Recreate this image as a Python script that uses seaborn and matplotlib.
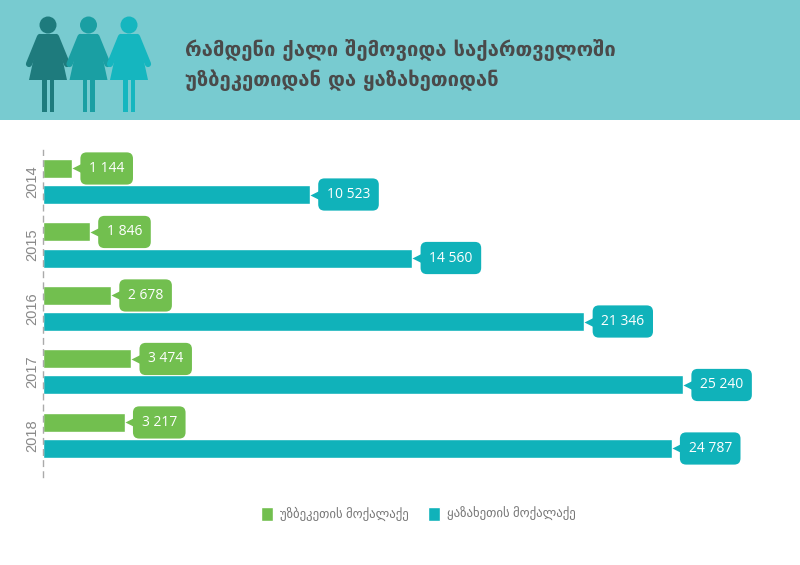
import matplotlib
matplotlib.use('Agg')
import matplotlib.pyplot as plt
import matplotlib.patches as mpatches
import matplotlib.transforms as mtransforms
import seaborn as sns
import pandas as pd

# data
years = ['2014', '2015', '2016', '2017', '2018']
uzbek = [1144, 1846, 2678, 3474, 3217]
kazakh = [10523, 14560, 21346, 25240, 24787]
series_names = ['უზბეკეთის მოქალაქე', 'ყაზახეთის მოქალაქე']
title_lines = ['რამდენი ქალი შემოვიდა საქართველოში', 'უზბეკეთიდან და ყაზახეთიდან']

green = '#72bf4f'
teal = '#10b2ba'
header_bg = '#78cbd0'
icon_cols = ['#1e7b7d', '#1a9fa3', '#15b6bf']

df = pd.DataFrame({
    'year': years * 2,
    'value': uzbek + kazakh,
    'country': [series_names[0]] * len(years) + [series_names[1]] * len(years),
})

sns.set_theme(style='white')
plt.rcParams['font.family'] = ['Open Sans', 'DejaVu Sans']

fig = plt.figure(figsize=(8, 5.65), dpi=100)

# header band, icons and title drawn in pixel coords
bg = fig.add_axes([0, 0, 1, 1])
bg.set_xlim(0, 800)
bg.set_ylim(565, 0)
bg.axis('off')
bg.add_patch(mpatches.Rectangle((0, 0), 800, 120, color=header_bg, lw=0))

for i, c in enumerate(icon_cols):
    cx = 48 + i * 40.5
    bg.add_patch(mpatches.Circle((cx, 25), 8.5, color=c, lw=0))
    bg.add_patch(mpatches.Polygon([(cx - 9, 34), (cx + 9, 34), (cx + 19, 80), (cx - 19, 80)],
                                  closed=True, color=c, lw=0))
    bg.plot([cx - 8, cx - 19], [37, 64], color=c, lw=4.5, solid_capstyle='round')
    bg.plot([cx + 8, cx + 19], [37, 64], color=c, lw=4.5, solid_capstyle='round')
    bg.add_patch(mpatches.Rectangle((cx - 6, 78), 4.5, 34, color=c, lw=0))
    bg.add_patch(mpatches.Rectangle((cx + 1.5, 78), 4.5, 34, color=c, lw=0))

bg.text(185, 50, title_lines[0], fontsize=14.6, fontweight='bold', color='#4a4a4a',
        va='center', ha='left', family='DejaVu Sans')
bg.text(185, 80, title_lines[1], fontsize=14.6, fontweight='bold', color='#4a4a4a',
        va='center', ha='left', family='DejaVu Sans')

# main chart
xmax = 29000
ax = fig.add_axes([43 / 800, 1 - 477 / 565, (xmax * 640 / 25240) / 800, 327 / 565])
sns.barplot(data=df, y='year', x='value', hue='country', orient='h',
            palette=[green, teal], width=0.82, gap=0.27, saturation=1, ax=ax)
ax.set_xlim(0, xmax)
ax.set_ylim(4.654, -0.496)
ax.set_xlabel('')
ax.set_ylabel('')
ax.set_xticks([])
ax.set_facecolor('none')
for s in ['top', 'right', 'bottom']:
    ax.spines[s].set_visible(False)
ax.spines['left'].set_color('#aaaaaa')
ax.spines['left'].set_linestyle((0, (4, 4)))
ax.spines['left'].set_linewidth(1)
ax.tick_params(axis='y', length=0, pad=3)
for lab in ax.get_yticklabels():
    lab.set_rotation(90)
    lab.set_va('center')
    lab.set_fontsize(10.5)
    lab.set_color('#888888')
    lab.set_family('Liberation Sans')

# callout labels
tri = mtransforms.offset_copy(ax.transData, fig=fig, x=6, y=0, units='dots')
for j, vals in enumerate([uzbek, kazakh]):
    col = [green, teal][j]
    for i, v in enumerate(vals):
        yc = i + (-0.205 if j == 0 else 0.205)
        ax.plot([v], [yc], marker='<', markersize=8, color=col, transform=tri,
                clip_on=False, mec='none')
        ax.annotate(f'{v:,}'.replace(',', ' '), xy=(v, yc), xytext=(17, 0),
                    textcoords='offset pixels', ha='left', va='center',
                    fontsize=10, color='white', family='Open Sans',
                    annotation_clip=False,
                    bbox=dict(boxstyle='round,pad=0.62,rounding_size=0.45',
                              fc=col, ec='none'))

sns.move_legend(ax, loc='center', bbox_to_anchor=(418 / 800, 1 - 514 / 565),
                bbox_transform=fig.transFigure, ncol=2, frameon=False, title=None,
                handlelength=1.0, handleheight=1.3, handletextpad=0.5,
                columnspacing=1.5, fontsize=9.2)
for t in ax.get_legend().get_texts():
    t.set_color('#777777')

fig.savefig('out.png', dpi=100)
